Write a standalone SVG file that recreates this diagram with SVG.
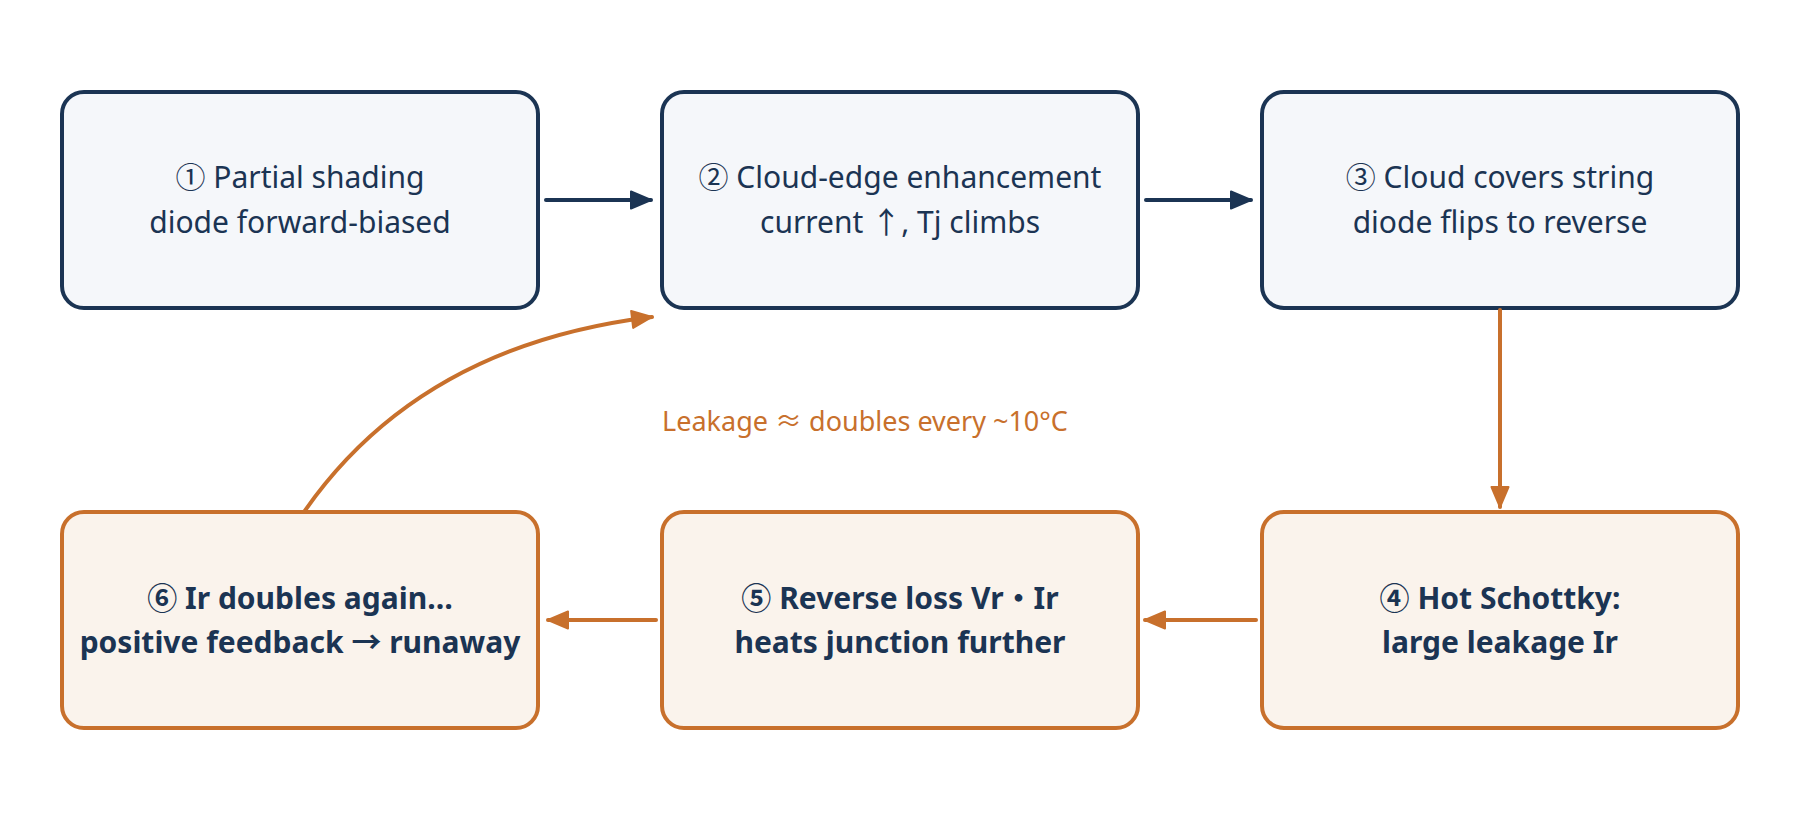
<svg xmlns="http://www.w3.org/2000/svg" width="1800" height="840" viewBox="0 0 1800 840">
<style>
.t{font-family:"Noto Sans","Noto Sans CJK SC",sans-serif;font-size:30px;fill:#1b3453;text-anchor:middle}
.b{font-weight:bold}
.navy{fill:#f5f7fa;stroke:#1b3453;stroke-width:4}
.org{fill:#faf3ec;stroke:#c8702c;stroke-width:4}
.cn{fill:none;stroke:#1b3453;stroke-width:4;stroke-linecap:round}
.co{fill:none;stroke:#c8702c;stroke-width:4;stroke-linecap:round}
.lbl{font-family:"Noto Sans","Noto Sans CJK SC",sans-serif;font-size:27px;fill:#c8702c;text-anchor:middle}
</style>
<defs>
<marker id="an" markerUnits="userSpaceOnUse" markerWidth="30" markerHeight="30" viewBox="0 0 30 30" refX="25" refY="15" orient="auto">
<path d="M5,6.5 L25,15 L5,23.5 Z" fill="#1b3453" stroke="#1b3453" stroke-width="2" stroke-linejoin="round"/>
</marker>
<marker id="ao" markerUnits="userSpaceOnUse" markerWidth="30" markerHeight="30" viewBox="0 0 30 30" refX="25" refY="15" orient="auto">
<path d="M5,6.5 L25,15 L5,23.5 Z" fill="#c8702c" stroke="#c8702c" stroke-width="2" stroke-linejoin="round"/>
</marker>
</defs>
<rect width="1800" height="840" fill="#ffffff"/>
<g id="n1"><rect class="navy" x="62" y="92" width="476" height="216" rx="22"/>
<text class="t" x="300" y="188">① Partial shading</text><text class="t" x="300" y="233">diode forward-biased</text></g>
<g id="n2"><rect class="navy" x="662" y="92" width="476" height="216" rx="22"/>
<text class="t" x="900" y="188">② Cloud-edge enhancement</text><text class="t" x="900" y="233">current ↑, Tj climbs</text></g>
<g id="n3"><rect class="navy" x="1262" y="92" width="476" height="216" rx="22"/>
<text class="t" x="1500" y="188">③ Cloud covers string</text><text class="t" x="1500" y="233">diode flips to reverse</text></g>
<g id="n4"><rect class="org" x="1262" y="512" width="476" height="216" rx="22"/>
<text class="t b" x="1500" y="609">④ Hot Schottky:</text><text class="t b" x="1500" y="653">large leakage Ir</text></g>
<g id="n5"><rect class="org" x="662" y="512" width="476" height="216" rx="22"/>
<text class="t b" x="900" y="609">⑤ Reverse loss Vr・Ir</text><text class="t b" x="900" y="653">heats junction further</text></g>
<g id="n6"><rect class="org" x="62" y="512" width="476" height="216" rx="22"/>
<text class="t b" x="300" y="609">⑥ Ir doubles again…</text><text class="t b" x="300" y="653">positive feedback → runaway</text></g>
<g id="connectors">
<line class="cn" x1="546" y1="200" x2="651" y2="200" marker-end="url(#an)"/>
<line class="cn" x1="1146" y1="200" x2="1251" y2="200" marker-end="url(#an)"/>
<line class="co" x1="1500" y1="310" x2="1500" y2="507" marker-end="url(#ao)"/>
<line class="co" x1="1256" y1="620" x2="1145" y2="620" marker-end="url(#ao)"/>
<line class="co" x1="656" y1="620" x2="548" y2="620" marker-end="url(#ao)"/>
<path class="co" d="M304,512 Q420,345 652,317" marker-end="url(#ao)"/>
<text class="lbl" x="865" y="431">Leakage ≈ doubles every ~10°C</text>
</g>
</svg>
